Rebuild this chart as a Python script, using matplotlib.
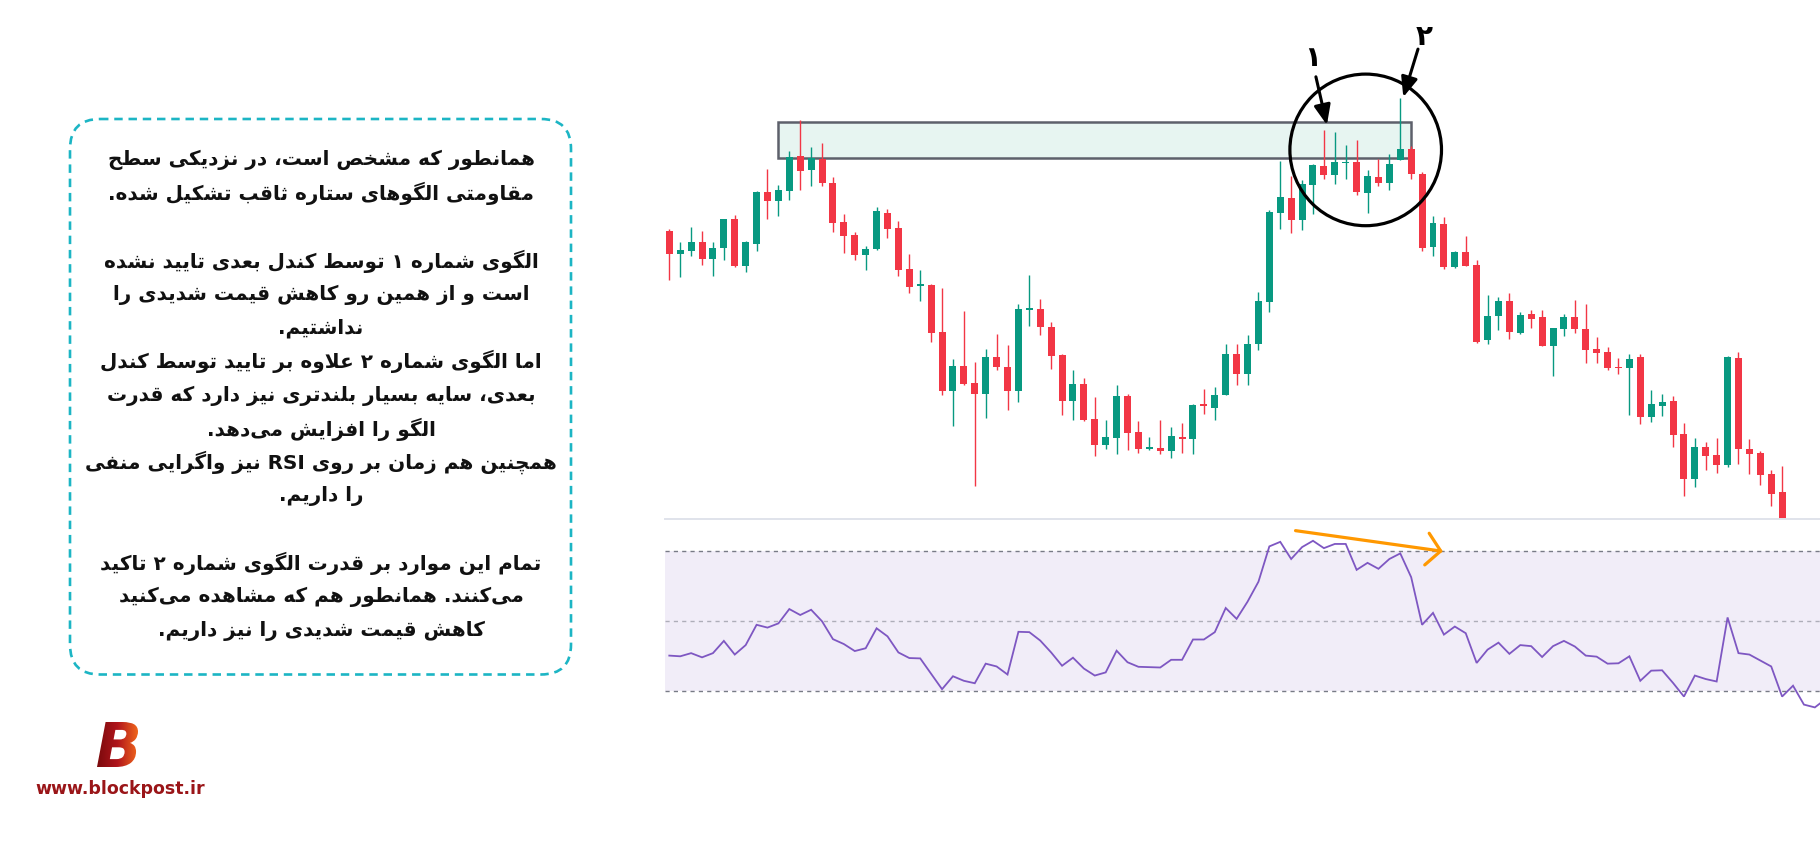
import re
import numpy as np
import matplotlib
matplotlib.use('Agg')
import matplotlib.pyplot as plt
from matplotlib.patches import FancyBboxPatch, Circle, Rectangle, PathPatch
from matplotlib.textpath import TextPath
from matplotlib.font_manager import FontProperties, findfont
from matplotlib.ft2font import FT2Font
from matplotlib.transforms import Affine2D
from matplotlib.colors import LinearSegmentedColormap

# ---- price data (candles, left to right) ----
opens = [368, 345, 348, 357, 340, 351, 380, 333, 355, 407,
         398, 408, 443, 429, 440, 416, 377, 364, 344, 350,
         386, 371, 330, 313.5, 314, 267, 208, 233, 216, 205,
         242, 232, 208, 289.5, 290, 272, 244, 198, 215, 180,
         154, 161, 203, 167, 150, 151, 148, 162, 160, 194,
         191, 204, 245, 225, 255, 297.3, 386.3, 401, 379.3, 414.3,
         433, 424.3, 436, 437, 406.3, 422, 416.3, 439.3, 450, 425,
         352.3, 375, 332.3, 347, 334, 259.3, 283.3, 298, 266.3, 285,
         282, 253.3, 270.3, 282, 270, 250, 247, 232, 231.3, 242,
         182.3, 193.3, 198, 165, 120.3, 152, 144, 134.3, 241, 150,
         146, 125, 107]
highs = [370, 357, 372, 368, 357, 380, 384, 358, 408, 430,
         414, 448, 479, 452, 456, 422, 385, 367, 353, 392,
         390, 378, 345, 329, 315, 311, 240, 288, 237, 250,
         265, 254, 295, 324, 300, 277, 245, 229, 221, 202,
         179, 214, 205, 178, 162, 179, 172, 176, 195, 210,
         212, 255, 255, 264, 307.3, 389, 438, 423, 419, 435,
         469.3, 467, 454, 459.3, 429, 440.3, 445, 501, 453.3, 427,
         383, 382, 348.3, 363, 339, 304, 302, 306, 287, 289,
         289, 271, 285, 299, 295, 262, 252, 241, 245, 245,
         209, 205, 203, 176, 161, 157, 161, 243, 247, 160,
         148, 129, 133.3]
lows = [319, 322, 343, 334, 323, 339, 332, 327, 348, 380,
        383, 399, 409, 413, 413, 367, 346, 339, 329, 349,
        361, 323, 306, 298, 257, 204, 173, 214, 113, 181,
        229, 189, 197, 273, 264, 230, 184, 179, 178, 143,
        150, 145, 149, 146, 149.5, 145, 141, 146, 145, 185,
        179, 204, 214, 214, 249.4, 286.7, 370, 366.3, 369.3, 385.3,
        420.3, 415, 420.3, 404.3, 386.3, 413.3, 409.3, 439, 420.3, 348.3,
        343.3, 330.3, 331.3, 333.3, 256.3, 255.3, 269.3, 260.3, 265.3, 271.3,
        253.3, 223.3, 263.3, 266.3, 236.3, 236.3, 229.3, 225.3, 184.3, 175.3,
        177.3, 183.3, 152.3, 103.3, 112.3, 129.3, 126.3, 132.3, 135.3, 125.3,
        114.3, 93.3, 60]
closes = [345, 349, 357, 340, 351, 380, 333, 357, 407, 398,
          409, 442, 428, 441, 416, 376, 363, 344, 350, 388,
          370, 329, 312, 314, 266, 208, 233, 215, 205, 242,
          232, 208, 290, 290, 272, 243, 198, 215, 179, 154,
          162, 203, 166, 150, 152, 148, 163, 160, 194, 193.5,
          204, 245, 225, 255.5, 298, 387.3, 402, 379.3, 415, 434,
          424.3, 437, 436.5, 407.3, 423, 416.3, 435, 450, 425.3, 351.3,
          376, 332.3, 347, 333.3, 257.3, 283, 298, 267.3, 284, 280.3,
          253.3, 271, 282, 270.3, 249.3, 246.3, 231.3, 231.3, 240, 182.3,
          195, 197, 164.3, 120.3, 152, 143.3, 134.3, 242, 150.3, 145.3,
          124.3, 105.3, 72]

# ---- RSI (one value per bar, last ones belong to bars below the view) ----
rsi = [40.2, 40.0, 40.9, 39.7, 40.9, 44.4, 40.5, 43.2, 49.0, 48.2,
       49.4, 53.5, 51.8, 53.3, 50.0, 44.9, 43.5, 41.5, 42.3, 48.0,
       45.7, 41.1, 39.5, 39.4, 35.0, 30.6, 34.3, 33.0, 32.3, 37.9,
       37.1, 34.8, 47.0, 46.9, 44.5, 41.1, 37.3, 39.6, 36.5, 34.5,
       35.4, 41.6, 38.3, 37.0, 36.9, 36.8, 39.0, 39.0, 44.8, 44.8,
       46.9, 53.8, 50.7, 55.6, 61.3, 71.4, 72.7, 67.8, 71.2, 73.0,
       70.9, 72.1, 72.1, 64.7, 66.7, 65.0, 67.8, 69.4, 62.6, 49.0,
       52.4, 46.2, 48.5, 46.6, 38.1, 41.9, 43.9, 40.7, 43.2, 42.9,
       39.8, 42.9, 44.4, 42.8, 40.2, 39.9, 37.9, 38.0, 40.0, 33.0,
       35.9, 36.0, 32.4, 28.5, 34.5, 33.5, 32.8, 51.1, 40.9, 40.5,
       38.8, 37.1, 28.5, 31.6, 26.2, 25.4, 27.8]

text_lines = [
    'همانطور که مشخص است، در نزدیکی سطح',
    'مقاومتی الگوهای ستاره ثاقب تشکیل شده.',
    '',
    'الگوی شماره ۱ توسط کندل بعدی تایید نشده',
    'است و از همین رو کاهش قیمت شدیدی را',
    'نداشتیم.',
    'اما الگوی شماره ۲ علاوه بر تایید توسط کندل',
    'بعدی، سایه بسیار بلندتری نیز دارد که قدرت',
    'الگو را افزایش می\u200cدهد.',
    'همچنین هم زمان بر روی RSI نیز واگرایی منفی',
    'را داریم.',
    '',
    'تمام این موارد بر قدرت الگوی شماره ۲ تاکید',
    'می\u200cکنند. همانطور هم که مشاهده می\u200cکنید',
    'کاهش قیمت شدیدی را نیز داریم.',
]
labels = ['۱', '۲']

GREEN = '#089981'
RED = '#f23645'

# ---- minimal Persian shaping + visual ordering (matplotlib has no shaping) ----
cmap_chars = FT2Font(findfont('DejaVu Sans')).get_charmap()


def f4(b):
    return (b, b + 1, b + 2, b + 3)


FORMS = {
    'ا': (0xFE8D, 0xFE8E), 'آ': (0xFE81, 0xFE82),
    'ب': f4(0xFE8F), 'پ': f4(0xFB56), 'ت': f4(0xFE95), 'ث': f4(0xFE99),
    'ج': f4(0xFE9D), 'چ': f4(0xFB7A), 'ح': f4(0xFEA1), 'خ': f4(0xFEA5),
    'د': (0xFEA9, 0xFEAA), 'ذ': (0xFEAB, 0xFEAC), 'ر': (0xFEAD, 0xFEAE),
    'ز': (0xFEAF, 0xFEB0), 'ژ': (0xFB8A, 0xFB8B),
    'س': f4(0xFEB1), 'ش': f4(0xFEB5), 'ص': f4(0xFEB9), 'ض': f4(0xFEBD),
    'ط': f4(0xFEC1), 'ظ': f4(0xFEC5), 'ع': f4(0xFEC9), 'غ': f4(0xFECD),
    'ف': f4(0xFED1), 'ق': f4(0xFED5), 'ک': f4(0xFB8E), 'گ': f4(0xFB92),
    'ل': f4(0xFEDD), 'م': f4(0xFEE1), 'ن': f4(0xFEE5), 'ه': f4(0xFEE9),
    'و': (0xFEED, 0xFEEE), 'ی': f4(0xFBFC),
}
if not all(c in cmap_chars for c in FORMS['ی']):
    FORMS['ی'] = (0xFEEF, 0xFEF0, 0xFEF3, 0xFEF4)
if not all(c in cmap_chars for c in FORMS['ک']):
    FORMS['ک'] = f4(0xFED9)
DUAL = {k for k, v in FORMS.items() if len(v) == 4}


def shape(s):
    s = s.replace('ي', 'ی').replace('ك', 'ک')
    out = []
    i = 0
    while i < len(s):
        c = s[i]
        if c not in FORMS:
            if c != '\u200c':
                out.append(c)
            i += 1
            continue
        jp = i > 0 and s[i - 1] in DUAL
        if c == 'ل' and i + 1 < len(s) and s[i + 1] in 'اآ':
            lig = {'ا': (0xFEFB, 0xFEFC), 'آ': (0xFEF5, 0xFEF6)}[s[i + 1]]
            out.append(chr(lig[1] if jp else lig[0]))
            i += 2
            continue
        jn = c in DUAL and i + 1 < len(s) and s[i + 1] in FORMS
        f = FORMS[c]
        g = f[3] if (jp and jn) else f[1] if jp else f[2] if jn else f[0]
        out.append(chr(g) if g in cmap_chars else c)
        i += 1
    vis = ''.join(out)[::-1]
    return re.sub(r'[A-Za-z0-9]+', lambda m: m.group(0)[::-1], vis)


# ---- figure ----
W, H = 1820, 845
fig = plt.figure(figsize=(W / 100, H / 100), dpi=100)
fig.patch.set_facecolor('white')

x0_px, x1_px = 665, 1820
step_px, first_px = 10.91, 669.3
xlim = ((x0_px - first_px) / step_px, (x1_px - first_px) / step_px)

# price panel
ax = fig.add_axes([x0_px / W, 1 - 520 / H, (x1_px - x0_px) / W, 520 / H])
ax.set_xlim(*xlim)
ax.set_ylim(80, 600)
ax.axis('off')

o = np.array(opens); c = np.array(closes)
h = np.array(highs); l = np.array(lows)
idx = np.arange(len(o))
colors = np.where(c >= o, GREEN, RED)
ax.vlines(idx, l, h, colors=colors, lw=1.0, zorder=3)
body = np.maximum(np.abs(c - o), 1.2)
ax.bar(idx, body, bottom=np.minimum(o, c), width=0.64, color=colors, lw=0, zorder=4)

# resistance zone
ax.add_patch(Rectangle((9.92, 441), 68.0 - 9.92, 477.5 - 441,
                       facecolor='#e7f5f1', edgecolor='#5d606b', lw=1.8, zorder=2))

# RSI panel
ax2 = fig.add_axes([x0_px / W, 1 - 721 / H, (x1_px - x0_px) / W, 200 / H])
ax2.set_xlim(*xlim)
ax2.set_ylim(50 - (721 - 622.3) / 3.5, 50 + (622.3 - 521) / 3.5)
ax2.axis('off')
ax2.axhspan(30, 70, color='#7e57c2', alpha=0.1, lw=0)
for lev, a in [(70, 1.0), (50, 0.55), (30, 1.0)]:
    ax2.axhline(lev, color='#787b86', lw=1.0, ls=(0, (3, 3)), alpha=a)
ax2.plot(np.arange(len(rsi)), rsi, color='#7e57c2', lw=1.3, solid_joinstyle='miter')
ax2.annotate('', xy=(70.9, 70.0), xytext=(57.4, 75.9),
             arrowprops=dict(arrowstyle='->,head_length=1.0,head_width=1.15',
                             color='#ff9800', lw=2.3, shrinkA=0, shrinkB=0))

# overlay in pixel coordinates
ov = fig.add_axes([0, 0, 1, 1], zorder=10)
ov.set_xlim(0, W)
ov.set_ylim(H, 0)
ov.axis('off')
ov.patch.set_alpha(0)

ov.plot([x0_px, x1_px], [520.3, 520.3], color='#e0e3eb', lw=1.4)

ov.add_patch(Circle((1365.7, 150.9), 75.8, fill=False, edgecolor='black', lw=2.3))
arrow_kw = dict(arrowstyle='-|>,head_length=1.2,head_width=0.5', color='black',
                lw=2.2, shrinkA=0, shrinkB=0)
ov.annotate('', xy=(1326.9, 125.9), xytext=(1315.9, 77.8), arrowprops=arrow_kw)
ov.annotate('', xy=(1403.3, 98.1), xytext=(1418.0, 50.1), arrowprops=arrow_kw)
ov.text(1313, 58, labels[0], fontsize=20, fontweight='bold', ha='center', va='center',
        family='DejaVu Sans')
ov.text(1424, 37, labels[1], fontsize=20, fontweight='bold', ha='center', va='center',
        family='DejaVu Sans')

# text box
ov.add_patch(FancyBboxPatch((70, 120), 571 - 70, 675.5 - 120,
                            boxstyle='round,pad=0,rounding_size=30',
                            facecolor='white', edgecolor='#1cb5c4', lw=1.9,
                            ls=(0, (3.2, 2.2))))
for k, line in enumerate(text_lines):
    if line:
        ov.text(321, 160.2 + 33.6 * k, shape(line), fontsize=14.4, ha='center',
                va='center', color='#111111', family='DejaVu Sans', fontweight='bold')

# logo
tp = TextPath((0, 0), 'B', size=62,
              prop=FontProperties(family='DejaVu Sans', weight='bold', style='italic'))
ext = tp.get_extents()
tr = Affine2D().translate(-ext.x0, -ext.y0).scale(41 / ext.width, -45 / ext.height).translate(97, 768)
logo_patch = PathPatch(tr.transform_path(tp), facecolor='none', edgecolor='none')
ov.add_patch(logo_patch)
grad = LinearSegmentedColormap.from_list('b', ['#7a0a0c', '#b0151c', '#f0661c'])
im = ov.imshow(np.linspace(0, 1, 256)[None, :], cmap=grad, extent=(97, 138, 768, 723),
               aspect='auto', interpolation='bicubic', zorder=5)
im.set_clip_path(logo_patch)
ov.text(120, 789, 'www.blockpost.ir', fontsize=12.5, fontweight='bold', color='#9a1518',
        ha='center', va='center', family='DejaVu Sans')
ov.set_xlim(0, W)
ov.set_ylim(H, 0)

fig.savefig('out.png', dpi=100)
